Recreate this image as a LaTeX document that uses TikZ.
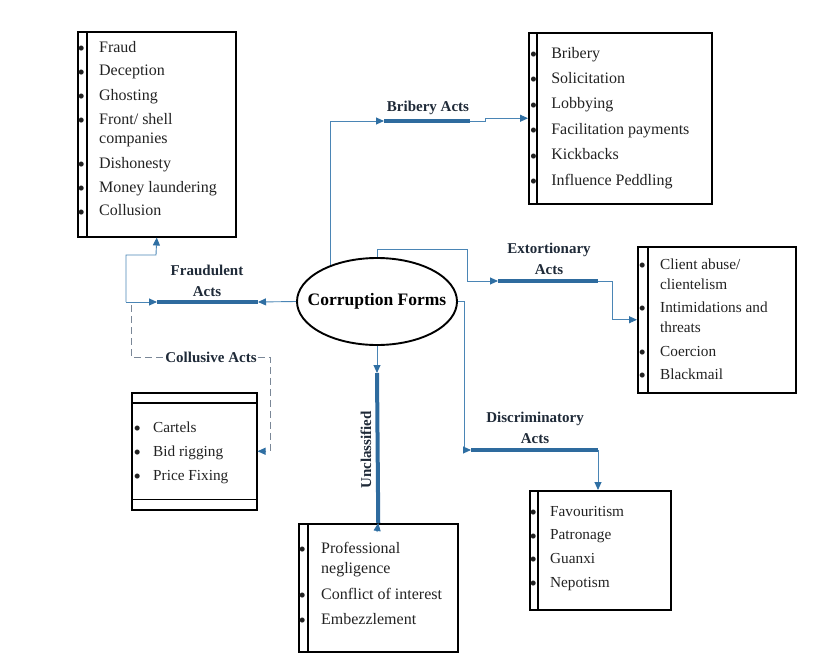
\documentclass[tikz,border=0pt]{standalone}
\usepackage{fontspec}
\setmainfont{Liberation Serif}
\usetikzlibrary{shapes.geometric,arrows.meta}
\definecolor{connblue}{HTML}{4A85B5}
\definecolor{barblue}{HTML}{2E6B9E}
\definecolor{tipblue}{HTML}{2F6FA3}
\definecolor{labelink}{HTML}{1F2A38}
\definecolor{dashgrey}{HTML}{7A8797}
\definecolor{itemink}{HTML}{222222}
\newcommand{\blt}{\raisebox{-3.4pt}{\fontsize{21}{20}\selectfont\textbullet}}
\tikzset{
  listbox/.style={draw=black, line width=1.5pt, anchor=north west, inner sep=0pt},
  divider/.style={draw=black, line width=1.2pt},
  items/.style={anchor=base west, inner sep=0pt, text=itemink, font=\fontsize{16}{20}\selectfont},
  smallitems/.style={items, font=\fontsize{15.3}{20}\selectfont},
  actlabel/.style={text=labelink, font=\bfseries\fontsize{15}{21}\selectfont, align=center, inner sep=1pt},
  conn/.style={draw=connblue, line width=0.9pt, -{Triangle[length=8pt,width=7pt,color=tipblue]}},
  dashconn/.style={draw=dashgrey, line width=0.9pt, dash pattern=on 7pt off 4pt},
  actbar/.style={draw=barblue, line width=4pt}
}
\begin{document}
\begin{tikzpicture}[x=1pt,y=-1pt]
\useasboundingbox (0,0) rectangle (830,653);

% centre
\node[draw, ellipse, line width=1.9pt, minimum width=160pt, minimum height=87pt,
  label={[font=\bfseries\fontsize{17.5}{20}\selectfont]center:Corruption Forms}] (corr) at (377,301.5) {};

% boxes
\node[listbox, minimum width=158pt, minimum height=205pt] (fraudbox) at (77,31) {};
\draw[divider] ([xshift=10pt]fraudbox.north west) -- ([xshift=10pt]fraudbox.south west);
\node[listbox, minimum width=183pt, minimum height=171pt] (bribbox) at (528,32) {};
\draw[divider] ([xshift=9pt]bribbox.north west) -- ([xshift=9pt]bribbox.south west);
\node[listbox, minimum width=158pt, minimum height=146pt] (extbox) at (637,246) {};
\draw[divider] ([xshift=11pt]extbox.north west) -- ([xshift=11pt]extbox.south west);
\node[listbox, minimum width=141pt, minimum height=119pt] (discbox) at (529,490) {};
\draw[divider] ([xshift=9pt]discbox.north west) -- ([xshift=9pt]discbox.south west);
\node[listbox, minimum width=159pt, minimum height=128pt] (uncbox) at (298,523) {};
\draw[divider] ([xshift=10pt]uncbox.north west) -- ([xshift=10pt]uncbox.south west);
\node[listbox, minimum width=125pt, minimum height=117pt] (cartbox) at (131,392) {};
\draw[divider] ([yshift=-11pt]cartbox.north west) -- ([yshift=-11pt]cartbox.north east);
\draw[divider] ([yshift=11pt]cartbox.south west) -- ([yshift=11pt]cartbox.south east);

% lists
\node[items] (fraudlist) at (77.3,52) {\begin{tabular}[t]{@{}l@{\hspace{14.3pt}}l@{}}
\blt & Fraud\\[4pt]
\blt & Deception\\[4pt]
\blt & Ghosting\\[4pt]
\blt & Front/ shell\\
 & companies\\[4pt]
\blt & Dishonesty\\[4pt]
\blt & Money laundering\\[4pt]
\blt & Collusion
\end{tabular}};
\node[items] (briblist) at (529.6,58) {\begin{tabular}[t]{@{}l@{\hspace{14.1pt}}l@{}}
\blt & Bribery\\[5.4pt]
\blt & Solicitation\\[5.4pt]
\blt & Lobbying\\[5.4pt]
\blt & Facilitation payments\\[5.4pt]
\blt & Kickbacks\\[5.4pt]
\blt & Influence Peddling
\end{tabular}};
\node[smallitems] (extlist) at (638.3,269) {\begin{tabular}[t]{@{}l@{\hspace{14.3pt}}l@{}}
\blt & Client abuse/\\
 & clientelism\\[3.5pt]
\blt & Intimidations and\\
 & threats\\[3.5pt]
\blt & Coercion\\[3.5pt]
\blt & Blackmail
\end{tabular}};
\node[smallitems] (disclist) at (529.3,516) {\begin{tabular}[t]{@{}l@{\hspace{13.3pt}}l@{}}
\blt & Favouritism\\[3.7pt]
\blt & Patronage\\[3.7pt]
\blt & Guanxi\\[3.7pt]
\blt & Nepotism
\end{tabular}};
\node[items] (unclist) at (298.3,553) {\begin{tabular}[t]{@{}l@{\hspace{15.3pt}}l@{}}
\blt & Professional\\
 & negligence\\[6pt]
\blt & Conflict of interest\\[5pt]
\blt & Embezzlement
\end{tabular}};
\node[smallitems] (cartlist) at (133.3,432) {\begin{tabular}[t]{@{}l@{\hspace{12.3pt}}l@{}}
\blt & Cartels\\[4pt]
\blt & Bid rigging\\[4pt]
\blt & Price Fixing
\end{tabular}};

% bar ends
\coordinate (fraudL) at (157,302); \coordinate (fraudR) at (258,302);
\coordinate (fraudJ) at (126,302); \coordinate (fraudK) at (156,255);
\coordinate (bribL) at (384,121); \coordinate (bribR) at (470,121);
\coordinate (extK) at (467,249); \coordinate (extL) at (498,281); \coordinate (extR) at (598,281);
\coordinate (discK) at (464,450); \coordinate (discL) at (471,450); \coordinate (discR) at (598,450);
\coordinate (uncT) at (377,373); \coordinate (uncB) at (377,532);
\coordinate (colA) at (131,305); \coordinate (colK) at (270,357);

% bars
\draw[actbar] (fraudL) -- (fraudR);
\draw[actbar] (bribL) -- (bribR);
\draw[actbar] (extL) -- (extR);
\draw[actbar] (discL) -- (discR);
\draw[actbar] (uncT) -- (uncbox.north);

% labels
\node[actlabel] (fraudlab) at (207,281) {Fraudulent\\Acts};
\node[actlabel] (briblab) at (428,108) {Bribery Acts};
\node[actlabel] (extlab) at (549,259) {Extortionary\\Acts};
\node[actlabel] (disclab) at (535,428) {Discriminatory\\Acts};
\node[actlabel] (collab) at (211,357) {Collusive Acts};
\node[actlabel, rotate=90] (unclab) at (366,450) {Unclassified};

% connectors
\draw[conn] (corr.west) -- (fraudR);
\draw[conn] (fraudJ) -- (fraudL);
\draw[conn] (fraudJ) |- (fraudK) -- (fraudbox.south);
\draw[conn] (corr.142.6) |- (bribL);
\draw[conn] (bribR) -- ++(15,0) |- (bribbox.west);
\draw[conn] (corr.north) |- (extK) |- (extL);
\draw[conn] (extR) -- ++(14,0) |- (extbox.west);
\draw[conn] (corr.east) -| (discK) -- (discL);
\draw[conn] (discR) -- (discR |- discbox.north);
\draw[conn] (corr.south) -- (uncT);
\draw[conn] (uncB) -- (uncbox.north);
\draw[dashconn] (colA) |- (collab.west);
\draw[dashconn, -{Triangle[length=8pt,width=7pt,color=tipblue]}] (collab.east) -- (colK) |- (cartbox.east);
\end{tikzpicture}
\end{document}
